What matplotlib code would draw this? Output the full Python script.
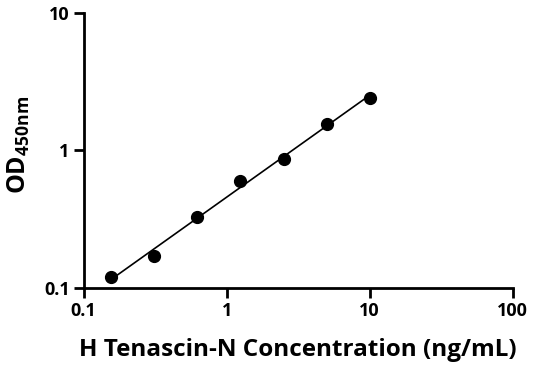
import numpy as np
import matplotlib
matplotlib.use("Agg")
import matplotlib.pyplot as plt
from matplotlib.ticker import FixedLocator, FixedFormatter, NullLocator

plt.rcParams['font.family'] = ['Open Sans', 'DejaVu Sans']
plt.rcParams['font.weight'] = 'bold'
plt.rcParams['mathtext.fontset'] = 'custom'
plt.rcParams['mathtext.rm'] = 'Open Sans:bold'

# standard curve data
conc = np.array([0.156, 0.3125, 0.625, 1.25, 2.5, 5, 10])
od = np.array([0.12, 0.171, 0.33, 0.60, 0.87, 1.55, 2.42])
xticks = [0.1, 1, 10, 100]
xtick_labels = ['0.1', '1', '10', '100']
yticks = [0.1, 1, 10]
ytick_labels = ['0.1', '1', '10']

# power-law fit (straight line on log-log)
slope, intercept = np.polyfit(np.log10(conc), np.log10(od), 1)
xfit = np.logspace(np.log10(conc.min()), np.log10(conc.max()), 50)
yfit = 10 ** (slope * np.log10(xfit) + intercept)

fig = plt.figure(figsize=(5.36, 3.71), dpi=100)
ax = fig.add_axes([0.156, 0.224, 0.8005, 0.741])
ax.plot(xfit, yfit, color='black', lw=1.2)
ax.plot(conc, od, 'o', color='black', markersize=8.5)

ax.set_xscale('log')
ax.set_yscale('log')
ax.set_xlim(0.1, 100)
ax.set_ylim(0.1, 10)
ax.xaxis.set_major_locator(FixedLocator(xticks))
ax.xaxis.set_major_formatter(FixedFormatter(xtick_labels))
ax.yaxis.set_major_locator(FixedLocator(yticks))
ax.yaxis.set_major_formatter(FixedFormatter(ytick_labels))
ax.xaxis.set_minor_locator(NullLocator())
ax.yaxis.set_minor_locator(NullLocator())

for s in ['top', 'right']:
    ax.spines[s].set_visible(False)
for s in ['left', 'bottom']:
    ax.spines[s].set_linewidth(2)
ax.tick_params(width=2, length=7, labelsize=13, pad=3)
for lbl in ax.get_xticklabels() + ax.get_yticklabels():
    lbl.set_fontweight('bold')

ax.set_xlabel('H Tenascin-N Concentration (ng/mL)', fontsize=17.5, fontweight='bold', labelpad=13)
ax.set_ylabel(r'OD$_{\mathregular{450nm}}$', fontsize=18, fontweight='bold', labelpad=7)
ax.yaxis.set_label_coords(-0.12, 0.52)

fig.savefig('out.png', dpi=100)
